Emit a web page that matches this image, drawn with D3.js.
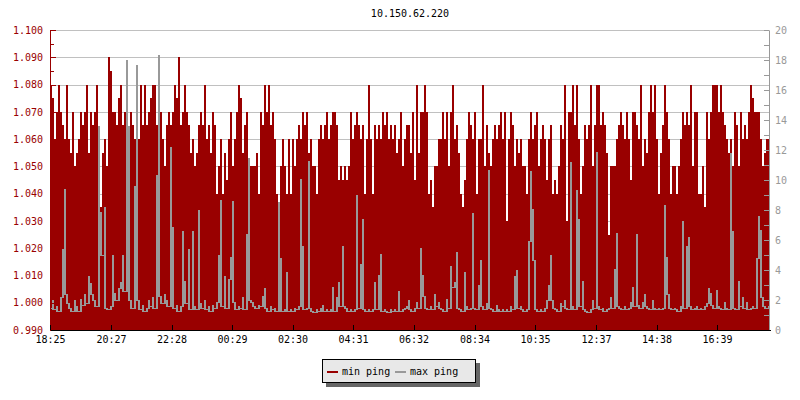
<!DOCTYPE html>
<html><head><meta charset="utf-8">
<script src="https://cdn.jsdelivr.net/npm/d3@7"></script>
<style>
body{margin:0;background:#fff}
text{font-family:"DejaVu Sans Mono","Liberation Mono",monospace;font-size:10px}
</style>
</head><body><svg id="c" width="800" height="400"></svg>
<script>
const chartTitle = "10.150.62.220";
const seriesNames = ["min ping", "max ping"];
const seriesColors = ["#990000", "#999999"];

// min ping (left axis), one sample every 4 minutes over 24h
const minPing = [
1.080,1.075,1.060,1.070,1.080,1.070,1.065,1.060,1.080,1.060,
1.055,1.070,1.050,1.055,1.060,1.070,1.065,1.070,1.080,1.055,
1.070,1.065,1.070,1.080,1.060,1.035,1.055,1.060,1.050,1.090,
1.085,1.070,1.070,1.065,1.075,1.080,1.065,1.070,1.060,1.060,
1.070,1.065,1.060,1.045,1.060,1.080,1.065,1.080,1.065,1.070,
1.075,1.080,1.080,1.065,1.060,1.070,1.060,1.050,1.065,1.070,
1.065,1.070,1.080,1.075,1.090,1.065,1.070,1.080,1.070,1.065,
1.055,1.060,1.050,1.055,1.065,1.070,1.065,1.080,1.060,1.065,
1.055,1.070,1.065,1.040,1.050,1.060,1.040,1.055,1.045,1.060,

1.070,1.050,1.060,1.070,1.080,1.075,1.055,1.065,1.070,1.040,
1.050,1.050,1.050,1.055,1.040,1.070,1.065,1.080,1.070,1.080,
1.065,1.070,1.060,1.040,1.030,1.050,1.060,1.050,1.040,1.060,
1.040,1.060,1.050,1.060,1.065,1.060,1.070,1.065,1.070,1.055,
1.060,1.050,1.050,1.040,1.060,1.065,1.060,1.065,1.070,1.060,
1.065,1.070,1.070,1.065,1.045,1.050,1.045,1.050,1.045,1.050,
1.070,1.060,1.065,1.070,1.065,1.060,1.065,1.040,1.060,1.080,
1.060,1.040,1.065,1.060,1.065,1.060,1.070,1.065,1.070,1.060,
1.065,1.060,1.065,1.055,1.060,1.070,1.050,1.060,1.065,1.065,

1.055,1.070,1.045,1.080,1.055,1.070,1.070,1.080,1.070,1.040,
1.045,1.035,1.050,1.050,1.060,1.060,1.070,1.060,1.070,1.050,
1.070,1.080,1.060,1.065,1.055,1.040,1.035,1.045,1.060,1.070,
1.065,1.060,1.070,1.040,1.060,1.060,1.080,1.050,1.065,1.055,
1.050,1.060,1.065,1.060,1.065,1.070,1.060,1.070,1.030,1.060,
1.070,1.065,1.050,1.060,1.055,1.060,1.050,1.050,1.040,1.060,
1.070,1.060,1.065,1.070,1.050,1.060,1.065,1.060,1.045,1.060,
1.065,1.040,1.045,1.040,1.050,1.065,1.060,1.080,1.030,1.070,
1.070,1.080,1.065,1.080,1.060,1.040,1.050,1.065,1.060,1.065,

1.080,1.050,1.065,1.080,1.080,1.065,1.070,1.065,1.055,1.025,
1.050,1.050,1.050,1.060,1.065,1.070,1.065,1.060,1.070,1.060,
1.045,1.070,1.070,1.065,1.060,1.080,1.050,1.060,1.055,1.070,
1.080,1.070,1.080,1.060,1.040,1.055,1.065,1.080,1.070,1.060,
1.040,1.050,1.050,1.040,1.050,1.060,1.070,1.065,1.070,1.065,
1.080,1.050,1.070,1.070,1.040,1.040,1.050,1.035,1.070,1.060,
1.070,1.080,1.080,1.080,1.070,1.080,1.070,1.065,1.060,1.055,
1.060,1.050,1.070,1.065,1.050,1.070,1.060,1.065,1.060,1.070,
1.080,1.075,1.070,1.070,1.070,1.060,1.050,1.055,1.060,1.060
];

// max ping (right axis)
const maxPing = [
1.5,2.0,1.4,1.6,1.3,2.2,5.4,9.4,2.4,1.8,
1.5,1.3,2.0,1.6,1.3,2.1,1.7,2.4,1.8,3.6,
3.1,2.4,2.0,1.6,13.6,7.9,5.0,8.2,1.5,1.4,
1.6,5.0,2.5,2.0,2.8,3.2,5.0,2.6,18.0,13.6,
2.0,1.5,9.6,17.7,2.0,1.4,1.7,1.3,1.5,2.0,
1.6,2.2,1.5,10.3,18.3,2.3,1.8,2.4,2.0,1.6,
12.2,6.9,1.5,1.7,1.3,1.6,6.6,3.3,1.8,5.4,
1.4,6.6,1.6,1.4,8.0,1.8,1.5,2.0,1.4,1.6,
1.3,1.7,1.5,1.9,5.0,8.7,1.6,3.6,1.5,3.4,

4.9,8.6,1.9,1.4,1.6,1.5,2.2,1.4,6.4,11.5,
2.0,1.9,1.6,1.5,1.7,1.6,2.3,2.8,1.5,1.3,
1.6,1.4,1.5,1.3,8.5,4.8,1.3,1.4,3.9,1.3,
1.4,1.3,1.5,1.4,1.6,10.1,5.6,1.4,1.5,11.3,
1.5,1.3,1.2,1.4,1.3,1.5,1.7,1.3,1.4,1.3,
1.4,2.9,1.3,2.2,3.2,1.6,5.6,1.6,1.5,1.3,
1.4,1.3,1.4,9.0,1.5,4.4,7.4,1.4,1.3,1.4,
1.3,1.4,3.2,1.4,3.7,5.1,1.3,1.4,1.3,1.2,
1.4,1.3,1.4,1.3,2.6,1.3,1.4,1.5,1.6,2.0,

1.4,1.3,1.5,1.9,1.5,5.5,3.7,2.3,1.5,1.4,
1.6,1.4,2.4,1.6,1.9,1.5,1.4,1.3,2.1,1.5,
4.3,2.9,3.2,5.2,1.5,1.4,1.3,3.9,1.6,1.4,
1.5,7.8,1.5,1.4,3.0,4.7,1.6,1.4,1.8,10.7,
1.5,1.4,1.3,1.7,1.4,1.3,1.4,1.3,1.4,1.3,
1.6,1.4,3.6,4.0,1.5,1.6,1.4,1.3,1.4,5.9,
10.6,8.1,4.7,1.4,1.3,1.4,1.3,1.5,2.0,3.0,
5.0,2.0,1.5,1.4,1.3,1.8,1.6,2.0,1.5,1.4,
11.2,1.6,1.4,9.3,7.4,1.6,3.3,1.4,1.3,1.2,

1.4,2.0,1.5,11.9,1.6,1.4,1.5,1.3,1.4,1.5,
2.2,1.5,4.1,6.5,1.6,1.5,1.4,1.6,1.4,1.5,
1.9,2.9,1.6,6.4,1.7,1.5,1.9,2.4,1.6,1.5,
1.4,2.0,1.5,1.4,1.5,1.4,1.5,8.3,4.9,2.4,
1.5,1.4,1.5,1.4,1.3,1.6,7.3,1.5,5.6,6.2,
1.6,1.4,1.5,1.6,1.4,1.5,1.4,1.6,1.8,2.8,
2.5,1.7,1.5,2.7,1.6,1.5,1.4,1.9,1.5,1.4,
11.8,6.6,1.5,1.4,3.3,1.6,2.2,1.5,1.9,1.4,
1.5,1.6,1.5,4.8,7.6,6.7,2.2,1.6,1.5,1.6
];

const sampleStepMinutes = 4;
const spanMinutes = 1440;
const tickMinutes = [0, 122, 243, 364, 485, 606, 727, 849, 970, 1092, 1213, 1334];
const tickLabels = ["18:25","20:27","22:28","00:29","02:30","04:31","06:32","08:34","10:35","12:37","14:38","16:39"];
const leftTicks = [0.99,1.00,1.01,1.02,1.03,1.04,1.05,1.06,1.07,1.08,1.09,1.10];
const leftMinorTicks = [0.995,1.005,1.015,1.025,1.035,1.045,1.055,1.065,1.075,1.085,1.095];
const rightTicks = [0,2,4,6,8,10,12,14,16,18,20];
const rightMinorTicks = [1,3,5,7,9,11,13,15,17,19];

const svg = d3.select("#c");
const L = 50, R = 770, T = 30, B = 330;
const x = d3.scaleLinear().domain([0, spanMinutes]).range([L, R]);
const yL = d3.scaleLinear().domain([0.99, 1.10]).range([B, T]);
const yR = d3.scaleLinear().domain([0, 20]).range([B, T]);

// title
svg.append("text").attr("x", (L + R) / 2).attr("y", 17).attr("text-anchor", "middle")
  .attr("fill", "#000").text(chartTitle);

// grid
svg.append("g").selectAll("line").data(leftTicks.slice(1)).join("line")
  .attr("x1", L).attr("x2", R)
  .attr("y1", d => Math.round(yL(d)) + 0.5).attr("y2", d => Math.round(yL(d)) + 0.5)
  .attr("stroke", "#c0c0c0").attr("stroke-width", 1);

// min ping area
const minPts = minPing.map((v, i) => ({t: i * sampleStepMinutes, v}));
minPts.push({t: spanMinutes, v: minPing[minPing.length - 1]});
svg.append("path").datum(minPts)
  .attr("d", d3.area().curve(d3.curveStepAfter).x(d => x(d.t)).y0(yL(0.99)).y1(d => yL(d.v)))
  .attr("fill", seriesColors[0]).attr("shape-rendering", "crispEdges");

// max ping: step trace, each sample drawn as a solid segment down to its lowest neighbour
const maxPts = maxPing.map((v, i) => {
  const lo = Math.min(v, i > 0 ? maxPing[i - 1] : v, i < maxPing.length - 1 ? maxPing[i + 1] : v);
  return {t: i * sampleStepMinutes, v, lo};
});
svg.append("g").selectAll("rect").data(maxPts).join("rect")
  .attr("x", d => Math.round(x(d.t)))
  .attr("width", d => Math.round(x(d.t + sampleStepMinutes)) - Math.round(x(d.t)))
  .attr("y", d => Math.round(yR(d.v)))
  .attr("height", d => Math.max(1, Math.round(yR(d.lo)) - Math.round(yR(d.v)) + 1))
  .attr("fill", seriesColors[1]).attr("shape-rendering", "crispEdges");

function styleAxis(g, color) {
  g.selectAll("path,line").attr("stroke", color).attr("shape-rendering", "crispEdges");
  g.selectAll("text").attr("fill", color).style("font-family", '"DejaVu Sans Mono",monospace').style("font-size", "10px");
}

// left axis
const gl = svg.append("g").attr("transform", `translate(${L},0)`)
  .call(d3.axisLeft(yL).tickValues(leftTicks).tickFormat(d3.format(".3f")).tickSize(-6).tickSizeOuter(0).tickPadding(7));
styleAxis(gl, "#990000");
const glm = svg.append("g").attr("transform", `translate(${L},0)`)
  .call(d3.axisLeft(yL).tickValues(leftMinorTicks).tickFormat("").tickSize(-4).tickSizeOuter(0));
glm.select(".domain").remove();
styleAxis(glm, "#990000");

// right axis
const gr = svg.append("g").attr("transform", `translate(${R - 1},0)`)
  .call(d3.axisRight(yR).tickValues(rightTicks).tickSize(-5).tickSizeOuter(0).tickPadding(6));
styleAxis(gr, "#999999");
const grm = svg.append("g").attr("transform", `translate(${R - 1},0)`)
  .call(d3.axisRight(yR).tickValues(rightMinorTicks).tickFormat("").tickSize(-5).tickSizeOuter(0));
grm.select(".domain").remove();
styleAxis(grm, "#999999");

// bottom axis
const gb = svg.append("g").attr("transform", `translate(0,${B})`)
  .call(d3.axisBottom(x).tickValues(tickMinutes).tickFormat((d, i) => tickLabels[i]).tickSize(-5).tickSizeOuter(0).tickPadding(6));
styleAxis(gb, "#000000");

// legend
const lg = svg.append("g");
lg.append("rect").attr("x", 326).attr("y", 363).attr("width", 154).attr("height", 24).attr("fill", "#666666");
lg.append("rect").attr("x", 322.5).attr("y", 359.5).attr("width", 153).attr("height", 23)
  .attr("fill", "#e8e8e8").attr("stroke", "#000").attr("stroke-width", 1);
const legendX = [327, 395];
seriesNames.forEach((name, i) => {
  lg.append("line").attr("x1", legendX[i]).attr("x2", legendX[i] + 11).attr("y1", 372).attr("y2", 372)
    .attr("stroke", seriesColors[i]).attr("stroke-width", 2);
  lg.append("text").attr("x", legendX[i] + 15).attr("y", 375).attr("fill", "#000").text(name);
});
</script>
</body></html>
